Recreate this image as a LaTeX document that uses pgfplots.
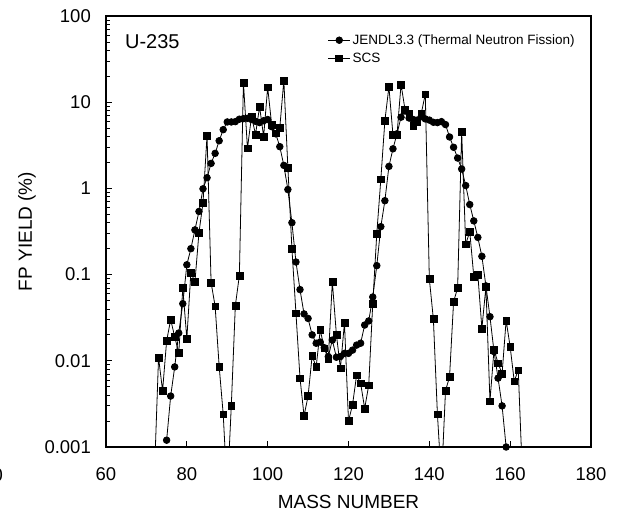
\documentclass[border=0pt]{standalone}
\usepackage{fontspec}
\setmainfont{Liberation Sans}
\usepackage{pgfplots}
\pgfplotsset{compat=1.18}
\usepackage{pgfplotstable}

\pgfplotstableread{
A y
75 0.0012
76 0.0039
77 0.0085
78 0.021
79 0.046
80 0.13
81 0.20
82 0.33
83 0.54
84 0.99
85 1.33
86 1.95
87 2.55
88 3.57
89 4.8
90 5.9
91 5.9
92 5.95
93 6.35
94 6.45
95 6.5
96 6.3
97 6.0
98 5.8
99 6.1
100 6.3
101 5.2
102 4.3
103 3.05
104 1.85
105 0.97
106 0.40
107 0.14
108 0.067
109 0.035
110 0.031
111 0.020
112 0.016
113 0.0165
114 0.0142
115 0.0112
116 0.0174
117 0.011
118 0.0112
119 0.0122
120 0.0122
121 0.0133
122 0.0152
123 0.016
124 0.026
125 0.029
126 0.055
127 0.127
128 0.36
129 0.72
130 1.8
131 2.88
132 4.3
133 6.7
134 7.9
135 6.55
136 6.3
137 6.2
138 6.8
139 6.4
140 6.2
141 5.85
142 5.8
143 5.95
144 5.5
145 3.95
146 3.0
147 2.25
148 1.68
149 1.08
150 0.65
151 0.42
152 0.27
153 0.163
154 0.074
155 0.0325
156 0.0128
157 0.0063
158 0.0030
159 0.0010
}\jendl

\pgfplotstableread{
A y
72 0.0005
73 0.0109
74 0.0045
75 0.017
76 0.030
77 0.019
78 0.0123
79 0.070
80 0.018
81 0.106
82 0.082
83 0.306
84 0.68
85 4.13
86 0.081
87 0.043
88 0.0086
89 0.0024
90 0.0003
91 0.0030
92 0.0436
93 0.098
94 17.0
95 2.92
96 6.8
97 4.24
98 8.87
99 3.98
100 14.9
101 5.43
102 4.36
103 5.06
104 17.9
105 1.74
106 0.20
107 0.0356
108 0.0063
109 0.0023
110 0.0039
111 0.0114
112 0.0085
113 0.0228
114 0.014
115 0.0105
116 0.083
117 0.0203
118 0.0082
119 0.0277
120 0.0020
121 0.0031
122 0.0068
123 0.0055
124 0.0028
125 0.0052
126 0.046
127 0.30
128 1.28
129 6.1
130 15.1
131 4.17
132 4.2
133 16.1
134 8.1
135 7.3
136 5.3
137 6.0
138 7.4
139 12.4
140 0.089
141 0.0305
142 0.0024
143 0.0004
144 0.0045
145 0.0065
146 0.0485
147 0.070
148 4.5
149 0.225
150 0.315
151 0.095
152 0.10
153 0.0238
154 0.072
155 0.0034
156 0.0135
157 0.0094
158 0.0071
159 0.0295
160 0.0145
161 0.0058
162 0.0078
163 0.0005
}\scsall

\pgfplotstableread{
A y
73 0.0109
74 0.0045
75 0.017
76 0.030
77 0.019
78 0.0123
79 0.070
80 0.018
81 0.106
82 0.082
83 0.306
84 0.68
85 4.13
86 0.081
87 0.043
88 0.0086
89 0.0024
91 0.0030
92 0.0436
93 0.098
94 17.0
95 2.92
96 6.8
97 4.24
98 8.87
99 3.98
100 14.9
101 5.43
102 4.36
103 5.06
104 17.9
105 1.74
106 0.20
107 0.0356
108 0.0063
109 0.0023
110 0.0039
111 0.0114
112 0.0085
113 0.0228
114 0.014
115 0.0105
116 0.083
117 0.0203
118 0.0082
119 0.0277
120 0.0020
121 0.0031
122 0.0068
123 0.0055
124 0.0028
125 0.0052
126 0.046
127 0.30
128 1.28
129 6.1
130 15.1
131 4.17
132 4.2
133 16.1
134 8.1
135 7.3
136 5.3
137 6.0
138 7.4
139 12.4
140 0.089
141 0.0305
142 0.0024
144 0.0045
145 0.0065
146 0.0485
147 0.070
148 4.5
149 0.225
150 0.315
151 0.095
152 0.10
153 0.0238
154 0.072
155 0.0034
156 0.0135
157 0.0094
158 0.0071
159 0.0295
160 0.0145
161 0.0058
162 0.0078
}\scsmarks

\begin{document}
\begin{tikzpicture}
\path[use as bounding box] (-106pt,-70pt) rectangle (511pt,447pt);
\begin{axis}[
  at={(0pt,0pt)}, anchor=south west,
  scale only axis, width=485pt, height=431pt,
  xmin=60, xmax=180, ymode=log, ymin=0.001, ymax=100,
  xtick={60,80,...,180},
  ytick={0.001,0.01,0.1,1,10,100},
  yticklabels={0.001,0.01,0.1,1,10,100},
  minor ytick={0.002,0.003,0.004,0.005,0.006,0.007,0.008,0.009,
    0.02,0.03,0.04,0.05,0.06,0.07,0.08,0.09,
    0.2,0.3,0.4,0.5,0.6,0.7,0.8,0.9,
    2,3,4,5,6,7,8,9,20,30,40,50,60,70,80,90},
  xtick pos=bottom, ytick pos=left,
  tick align=inside,
  major tick length=6pt, minor tick length=4pt,
  every tick/.style={black, line width=0.8pt},
  axis line style={line width=1.1pt},
  /pgf/number format/assume math mode=true,
  xticklabel style={font=\fontsize{18.5}{22}\selectfont, inner sep=0pt, anchor=north, yshift=-20pt},
  yticklabel style={font=\fontsize{18.5}{22}\selectfont, inner sep=0pt, anchor=east, xshift=-15pt},
  xlabel={MASS NUMBER},
  ylabel={FP YIELD (\%)},
  xlabel style={font=\fontsize{19}{22}\selectfont, at={(axis description cs:0.5,0)}, anchor=center, yshift=-55pt},
  ylabel style={font=\fontsize{19}{22}\selectfont, at={(axis description cs:0,0.5)}, anchor=center, yshift=79pt},
  clip mode=individual,
  legend style={at={(rel axis cs:0.457,0.962)}, anchor=north west, draw=none, fill=none,
    font=\fontsize{13.5}{15}\selectfont, inner sep=0pt, row sep=3pt},
  legend cell align=left,
  legend image code/.code={\draw[mark repeat=2,mark phase=2] plot coordinates {(0pt,0pt)(11pt,0pt)(22pt,0pt)};},
]
\addlegendimage{black, line width=0.8pt, mark=*, mark size=3.3pt}
\addlegendentry{JENDL3.3 (Thermal Neutron Fission)}
\addlegendimage{black, line width=0.8pt, mark=square*, mark size=3.4pt}
\addlegendentry{SCS}
\addplot[black, line width=0.8pt, mark=*, mark size=3.3pt, forget plot] table[x=A, y=y] {\jendl};
\addplot[black, line width=0.8pt, no markers, forget plot] table[x=A, y=y] {\scsall};
\addplot[black, only marks, mark=square*, mark size=3.4pt, forget plot] table[x=A, y=y] {\scsmarks};
\node[anchor=west, inner sep=0pt, font=\fontsize{20}{24}\selectfont] at (rel axis cs:0.039,0.9397) {U-235};
\end{axis}
\node[anchor=east, inner sep=0pt, font=\fontsize{18.5}{22}\selectfont] at (-103pt,-28pt) {0};
\end{tikzpicture}
\end{document}
